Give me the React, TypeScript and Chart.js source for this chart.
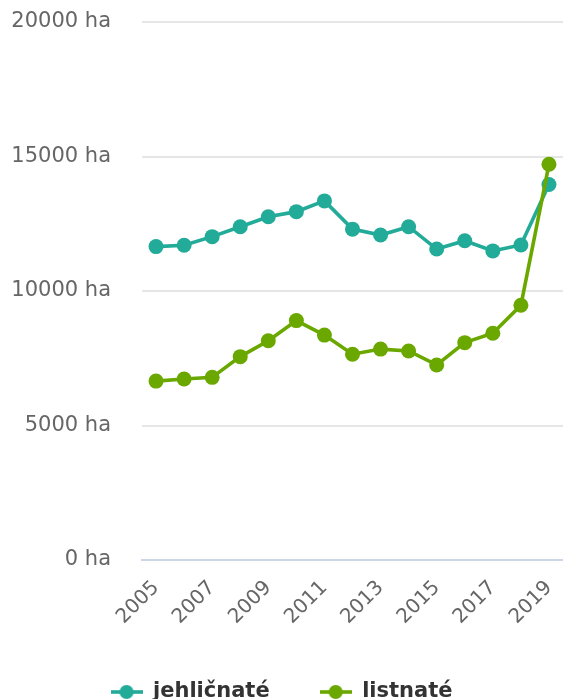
import React, { useEffect, useRef } from 'react';
import { Chart, registerables } from 'chart.js';

Chart.register(...registerables);

const years = ['2005', '2006', '2007', '2008', '2009', '2010', '2011', '2012', '2013', '2014', '2015', '2016', '2017', '2018', '2019'];
const jehlicnate = [11650, 11700, 12020, 12390, 12760, 12950, 13350, 12300, 12080, 12390, 11560, 11870, 11490, 11710, 13960];
const listnate = [6650, 6730, 6790, 7560, 8150, 8900, 8360, 7650, 7840, 7770, 7250, 8080, 8430, 9470, 14710];
const seriesNames = ['jehličnaté', 'listnaté'];
const seriesColors = ['#22ab98', '#6aa800'];
const yMin = 0;
const yMax = 20000;
const yStep = 5000;
const yUnit = ' ha';

const W = 563;
const H = 699;
const FONT = "'DejaVu Sans', Verdana, sans-serif";

function legendSymbol(color: string): HTMLCanvasElement {
  const c = document.createElement('canvas');
  c.width = 32;
  c.height = 16;
  const g = c.getContext('2d')!;
  g.strokeStyle = color;
  g.lineWidth = 3.6;
  g.beginPath();
  g.moveTo(0, 8);
  g.lineTo(32, 8);
  g.stroke();
  g.fillStyle = color;
  g.beginPath();
  g.arc(16, 8, 7, 0, Math.PI * 2);
  g.fill();
  return c;
}

export default function App() {
  const ref = useRef<HTMLCanvasElement | null>(null);

  useEffect(() => {
    if (!ref.current) return;
    const symbols = seriesColors.map(legendSymbol);
    const series = [jehlicnate, listnate];
    const chart = new Chart(ref.current, {
      type: 'line',
      data: {
        labels: years,
        datasets: series.map((d, i) => ({
          label: seriesNames[i],
          data: d,
          borderColor: seriesColors[i],
          backgroundColor: seriesColors[i],
          pointBackgroundColor: seriesColors[i],
          pointBorderWidth: 0,
          pointRadius: 7.5,
          borderWidth: 3.6,
          tension: 0,
          clip: false,
          order: i === 1 ? -1 : 0,
        })),
      },
      options: {
        responsive: false,
        animation: false,
        layout: { autoPadding: false, padding: { top: 22, left: 0, right: 0, bottom: 0 } },
        scales: {
          x: {
            type: 'category',
            offset: true,
            grid: { display: false, drawTicks: false },
            border: { display: true, color: '#ccd6eb', width: 2 },
            ticks: {
              autoSkip: false,
              maxRotation: 45,
              minRotation: 45,
              padding: 16,
              color: '#666666',
              font: { family: FONT, size: 20 },
              callback: (_v: any, i: number) => (i % 2 === 0 ? years[i] : ''),
            },
            afterFit: (s: any) => {
              s.height = 71.5;
              s.paddingLeft = 0;
              s.paddingRight = 0;
            },
          },
          y: {
            min: yMin,
            max: yMax,
            grid: {
              drawTicks: false,
              lineWidth: 2,
              color: (ctx: any) => (ctx.tick && ctx.tick.value === 0 ? '#ccd6eb' : '#e6e6e6'),
            },
            border: { display: false },
            ticks: {
              stepSize: yStep,
              padding: 31,
              color: '#666666',
              font: { family: FONT, size: 21 },
              callback: (v: any) => `${v}${yUnit}`,
            },
            afterFit: (s: any) => {
              s.width = 142;
              s.paddingTop = 0;
              s.paddingBottom = 0;
            },
          },
        },
        plugins: {
          tooltip: { enabled: false },
          legend: {
            position: 'bottom',
            maxHeight: 67.5,
            labels: {
              usePointStyle: true,
              pointStyleWidth: 32,
              padding: 50,
              color: '#333333',
              font: { family: FONT, size: 21, weight: 'bold' },
              generateLabels: (ch: any) => {
                const items = Chart.defaults.plugins.legend.labels.generateLabels(ch);
                items.sort((a: any, b: any) => a.datasetIndex - b.datasetIndex);
                return items.map((it: any) => ({ ...it, pointStyle: symbols[it.datasetIndex], lineWidth: 0 }));
              },
            },
          },
        },
      },
    } as any);
    return () => chart.destroy();
  }, []);

  return (
    <div style={{ position: 'absolute', left: 0, top: 0, width: W, height: H, background: '#ffffff' }}>
      <canvas ref={ref} width={W} height={H} style={{ width: W, height: H }} />
    </div>
  );
}
